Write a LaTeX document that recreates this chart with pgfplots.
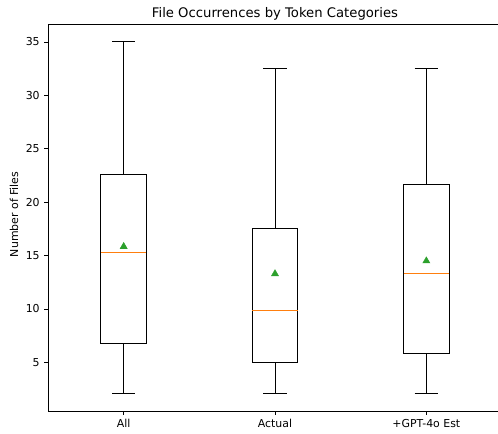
\documentclass[border=0pt]{standalone}
\usepackage{pgfplots}
\pgfplotsset{compat=1.18}
\usepgfplotslibrary{statistics}
\usepackage{fontspec}
\setmainfont{DejaVu Sans}
\definecolor{mplorange}{HTML}{FF7F0E}
\definecolor{mplgreen}{HTML}{2CA02C}
\begin{document}
\begin{tikzpicture}
\useasboundingbox (-36pt,-16.5pt) rectangle (337.5pt,308.25pt);
\clip (-36pt,-16.5pt) rectangle (337.5pt,308.25pt);
\begin{axis}[
  at={(0,0)}, anchor=south west,
  scale only axis, width=340.5pt, height=290pt,
  xmin=0.5, xmax=3.5, ymin=0.45, ymax=36.65,
  xtick={1,2,3}, xticklabels={All,Actual,+GPT-4o Est},
  ytick={5,10,15,20,25,30,35},
  tick align=outside, tick pos=left,
  major tick length=2.7pt,
  tick style={black, line width=0.6pt},
  axis line style={line width=0.6pt},
  /pgf/number format/assume math mode=true,
  tick label style={font=\fontsize{8.2}{10}\selectfont},
  boxplot/draw direction=y,
  clip=false,
]
\addplot[black, line width=0.75pt, solid,
  boxplot prepared={lower whisker=2.05, lower quartile=6.8, median=15.25,
    upper quartile=22.6, upper whisker=35, draw position=1,
    box extend=0.3, whisker extend=0.154,
    every median/.style={draw=mplorange, line width=0.75pt}}] coordinates {};
\addplot[black, line width=0.75pt, solid,
  boxplot prepared={lower whisker=2.05, lower quartile=5.0, median=9.9,
    upper quartile=17.55, upper whisker=32.5, draw position=2,
    box extend=0.3, whisker extend=0.154,
    every median/.style={draw=mplorange, line width=0.75pt}}] coordinates {};
\addplot[black, line width=0.75pt, solid,
  boxplot prepared={lower whisker=2.05, lower quartile=5.88, median=13.3,
    upper quartile=21.65, upper whisker=32.5, draw position=3,
    box extend=0.3, whisker extend=0.154,
    every median/.style={draw=mplorange, line width=0.75pt}}] coordinates {};
\addplot[only marks, mark=triangle*, mark size=3pt, mplgreen,
  mark options={draw=mplgreen, fill=mplgreen}] coordinates {(1,15.85) (2,13.3) (3,14.5)};
\node[anchor=base, font=\fontsize{9.9}{12}\selectfont] at ([yshift=5.3pt]rel axis cs:0.5,1) {File Occurrences by Token Categories};
\node[rotate=90, anchor=center, font=\fontsize{8.2}{10}\selectfont] at ([xshift=-25.5pt,yshift=2.5pt]rel axis cs:0,0.5) {Number of Files};
\end{axis}
\end{tikzpicture}
\end{document}
